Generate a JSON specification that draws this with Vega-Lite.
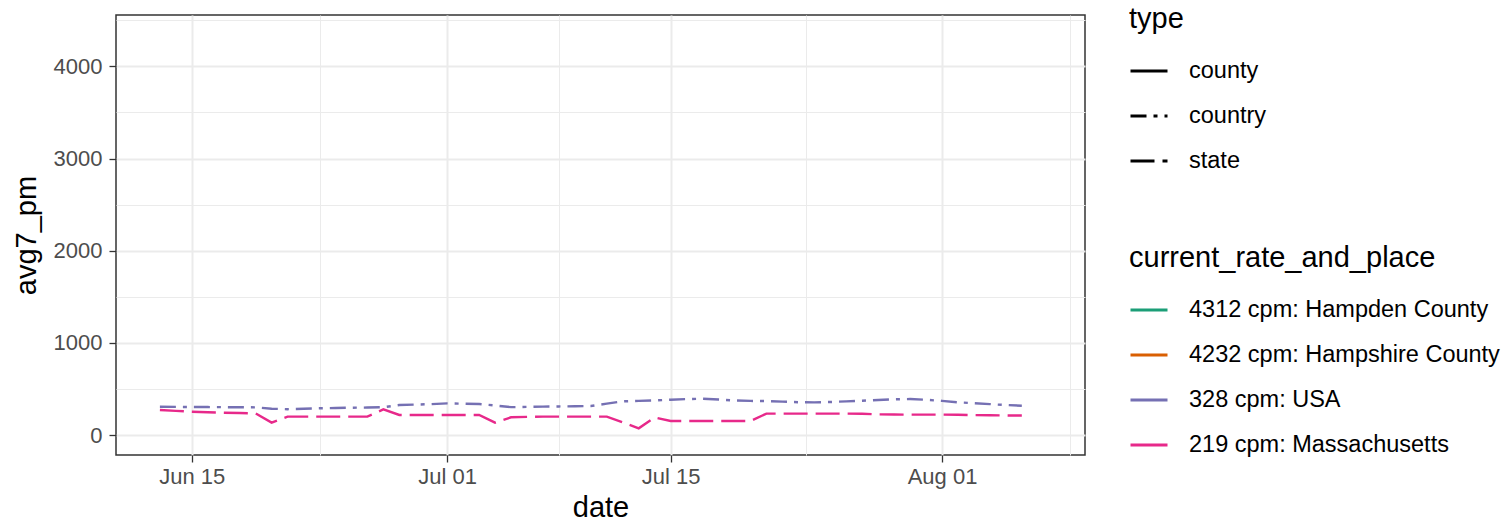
{
  "$schema": "https://vega.github.io/schema/vega-lite/v6.json",
  "width": 969,
  "height": 440,
  "autosize": {"type": "none"},
  "padding": {"left": 116, "top": 15, "right": 427, "bottom": 67},
  "background": "white",
  "title": {"text": "Cases per day per million (7-day average)", "fontSize": 35, "font": "Liberation Sans", "fontWeight": "normal", "anchor": "middle", "offset": 8, "color": "black"},
  "datasets": {
    "usa": [
      {"date": "2020-06-13", "v": 306}, {"date": "2020-06-14", "v": 305}, {"date": "2020-06-15", "v": 304}, {"date": "2020-06-16", "v": 303},
      {"date": "2020-06-17", "v": 302}, {"date": "2020-06-18", "v": 301}, {"date": "2020-06-19", "v": 300}, {"date": "2020-06-20", "v": 285},
      {"date": "2020-06-21", "v": 280}, {"date": "2020-06-22", "v": 285}, {"date": "2020-06-23", "v": 290}, {"date": "2020-06-24", "v": 293},
      {"date": "2020-06-25", "v": 296}, {"date": "2020-06-26", "v": 298}, {"date": "2020-06-27", "v": 302}, {"date": "2020-06-28", "v": 325},
      {"date": "2020-06-29", "v": 330}, {"date": "2020-06-30", "v": 335}, {"date": "2020-07-01", "v": 343}, {"date": "2020-07-02", "v": 340},
      {"date": "2020-07-03", "v": 336}, {"date": "2020-07-04", "v": 320}, {"date": "2020-07-05", "v": 302}, {"date": "2020-07-06", "v": 305},
      {"date": "2020-07-07", "v": 308}, {"date": "2020-07-08", "v": 310}, {"date": "2020-07-09", "v": 312}, {"date": "2020-07-10", "v": 314},
      {"date": "2020-07-11", "v": 340}, {"date": "2020-07-12", "v": 365}, {"date": "2020-07-13", "v": 370}, {"date": "2020-07-14", "v": 375},
      {"date": "2020-07-15", "v": 383}, {"date": "2020-07-16", "v": 390}, {"date": "2020-07-17", "v": 393}, {"date": "2020-07-18", "v": 385},
      {"date": "2020-07-19", "v": 375}, {"date": "2020-07-20", "v": 370}, {"date": "2020-07-21", "v": 368}, {"date": "2020-07-22", "v": 362},
      {"date": "2020-07-23", "v": 356}, {"date": "2020-07-24", "v": 354}, {"date": "2020-07-25", "v": 358}, {"date": "2020-07-26", "v": 365},
      {"date": "2020-07-27", "v": 372}, {"date": "2020-07-28", "v": 380}, {"date": "2020-07-29", "v": 387}, {"date": "2020-07-30", "v": 390},
      {"date": "2020-07-31", "v": 382}, {"date": "2020-08-01", "v": 370}, {"date": "2020-08-02", "v": 355}, {"date": "2020-08-03", "v": 345},
      {"date": "2020-08-04", "v": 335}, {"date": "2020-08-05", "v": 325}, {"date": "2020-08-06", "v": 318}
    ],
    "ma": [
      {"date": "2020-06-13", "v": 271}, {"date": "2020-06-14", "v": 262}, {"date": "2020-06-15", "v": 253}, {"date": "2020-06-16", "v": 247},
      {"date": "2020-06-17", "v": 242}, {"date": "2020-06-18", "v": 238}, {"date": "2020-06-19", "v": 235}, {"date": "2020-06-20", "v": 134},
      {"date": "2020-06-21", "v": 199}, {"date": "2020-06-22", "v": 199}, {"date": "2020-06-23", "v": 199}, {"date": "2020-06-24", "v": 199},
      {"date": "2020-06-25", "v": 199}, {"date": "2020-06-26", "v": 199}, {"date": "2020-06-27", "v": 278}, {"date": "2020-06-28", "v": 217},
      {"date": "2020-06-29", "v": 217}, {"date": "2020-06-30", "v": 217}, {"date": "2020-07-01", "v": 217}, {"date": "2020-07-02", "v": 217},
      {"date": "2020-07-03", "v": 217}, {"date": "2020-07-04", "v": 134}, {"date": "2020-07-05", "v": 192}, {"date": "2020-07-06", "v": 197},
      {"date": "2020-07-07", "v": 199}, {"date": "2020-07-08", "v": 199}, {"date": "2020-07-09", "v": 199}, {"date": "2020-07-10", "v": 199},
      {"date": "2020-07-11", "v": 199}, {"date": "2020-07-12", "v": 136}, {"date": "2020-07-13", "v": 72}, {"date": "2020-07-14", "v": 190},
      {"date": "2020-07-15", "v": 152}, {"date": "2020-07-16", "v": 152}, {"date": "2020-07-17", "v": 152}, {"date": "2020-07-18", "v": 152},
      {"date": "2020-07-19", "v": 152}, {"date": "2020-07-20", "v": 152}, {"date": "2020-07-21", "v": 232}, {"date": "2020-07-22", "v": 232},
      {"date": "2020-07-23", "v": 232}, {"date": "2020-07-24", "v": 232}, {"date": "2020-07-25", "v": 232}, {"date": "2020-07-26", "v": 232},
      {"date": "2020-07-27", "v": 231}, {"date": "2020-07-28", "v": 224}, {"date": "2020-07-29", "v": 222}, {"date": "2020-07-30", "v": 221},
      {"date": "2020-07-31", "v": 221}, {"date": "2020-08-01", "v": 221}, {"date": "2020-08-02", "v": 219}, {"date": "2020-08-03", "v": 216},
      {"date": "2020-08-04", "v": 214}, {"date": "2020-08-05", "v": 212}, {"date": "2020-08-06", "v": 211}
    ]
  },
  "config": {
    "font": "Liberation Sans",
    "view": {"stroke": "#333333", "strokeWidth": 1.5},
    "axis": {
      "domain": false,
      "gridColor": "#EBEBEB",
      "tickColor": "#333333",
      "tickSize": 7,
      "tickWidth": 1.3,
      "labelColor": "#4D4D4D",
      "labelFontSize": 22,
      "labelPadding": 5,
      "titleFontSize": 29,
      "titleFontWeight": "normal",
      "titleColor": "black"
    },
    "legend": {
      "orient": "none",
      "symbolType": "stroke",
      "symbolSize": 1369,
      "symbolStrokeWidth": 2.8,
      "labelFontSize": 23.5,
      "labelColor": "black",
      "labelOffset": 20,
      "labelLimit": 500,
      "titleLimit": 500,
      "titleFontSize": 29,
      "titleFontWeight": "normal",
      "titleColor": "black",
      "rowPadding": 13,
      "titlePadding": 17,
      "padding": 0
    }
  },
  "encoding": {
    "x": {
      "field": "date", "type": "temporal",
      "scale": {"type": "utc", "domain": [{"year": 2020, "month": 6, "date": 10, "hours": 6, "utc": true}, {"year": 2020, "month": 8, "date": 9, "hours": 23, "utc": true}]},
      "axis": {
        "title": "date",
        "titlePadding": 6,
        "labelPadding": 4,
        "values": [
          {"year": 2020, "month": 6, "date": 15, "utc": true},
          {"year": 2020, "month": 6, "date": 23, "utc": true},
          {"year": 2020, "month": 7, "date": 1, "utc": true},
          {"year": 2020, "month": 7, "date": 8, "utc": true},
          {"year": 2020, "month": 7, "date": 15, "utc": true},
          {"year": 2020, "month": 7, "date": 23, "hours": 12, "utc": true},
          {"year": 2020, "month": 8, "date": 1, "utc": true},
          {"year": 2020, "month": 8, "date": 9, "utc": true}
        ],
        "labelExpr": "(utcdate(datum.value)==1 || utcdate(datum.value)==15) ? utcFormat(datum.value, '%b %d') : ''",
        "gridWidth": {"condition": {"test": "utcdate(datum.value)==1 || utcdate(datum.value)==15", "value": 2}, "value": 1},
        "tickOpacity": {"condition": {"test": "utcdate(datum.value)==1 || utcdate(datum.value)==15", "value": 1}, "value": 0}
      }
    },
    "y": {
      "field": "v", "type": "quantitative",
      "scale": {"domain": [-217, 4557], "nice": false, "zero": false},
      "axis": {
        "title": "avg7_pm",
        "titlePadding": 12,
        "labelPadding": 7,
        "values": [0, 500, 1000, 1500, 2000, 2500, 3000, 3500, 4000, 4500],
        "labelExpr": "datum.value % 1000 == 0 ? datum.value : ''",
        "gridWidth": {"condition": {"test": "datum.value % 1000 == 0", "value": 2}, "value": 1},
        "tickOpacity": {"condition": {"test": "datum.value % 1000 == 0", "value": 1}, "value": 0}
      }
    },
    "color": {
      "field": "current_rate_and_place", "type": "nominal",
      "scale": {"domain": ["4312 cpm: Hampden County", "4232 cpm: Hampshire County", "328 cpm: USA", "219 cpm: Massachusetts"], "range": ["#1B9E77", "#D95F02", "#7570B3", "#E7298A"]},
      "legend": {"title": "current_rate_and_place", "legendX": 1013, "legendY": 229}
    },
    "strokeDash": {
      "field": "type", "type": "nominal",
      "scale": {"domain": ["county", "country", "state"], "range": [[1, 0], [16, 7, 4, 7], [24, 8]]},
      "legend": {"title": "type", "legendX": 1013, "legendY": -10, "symbolStrokeColor": "black"}
    }
  },
  "layer": [
    {
      "data": {"name": "usa"},
      "transform": [{"calculate": "'328 cpm: USA'", "as": "current_rate_and_place"}, {"calculate": "'country'", "as": "type"}],
      "mark": {"type": "line", "strokeWidth": 2.4}
    },
    {
      "data": {"name": "ma"},
      "transform": [{"calculate": "'219 cpm: Massachusetts'", "as": "current_rate_and_place"}, {"calculate": "'state'", "as": "type"}],
      "mark": {"type": "line", "strokeWidth": 2.4}
    }
  ]
}
